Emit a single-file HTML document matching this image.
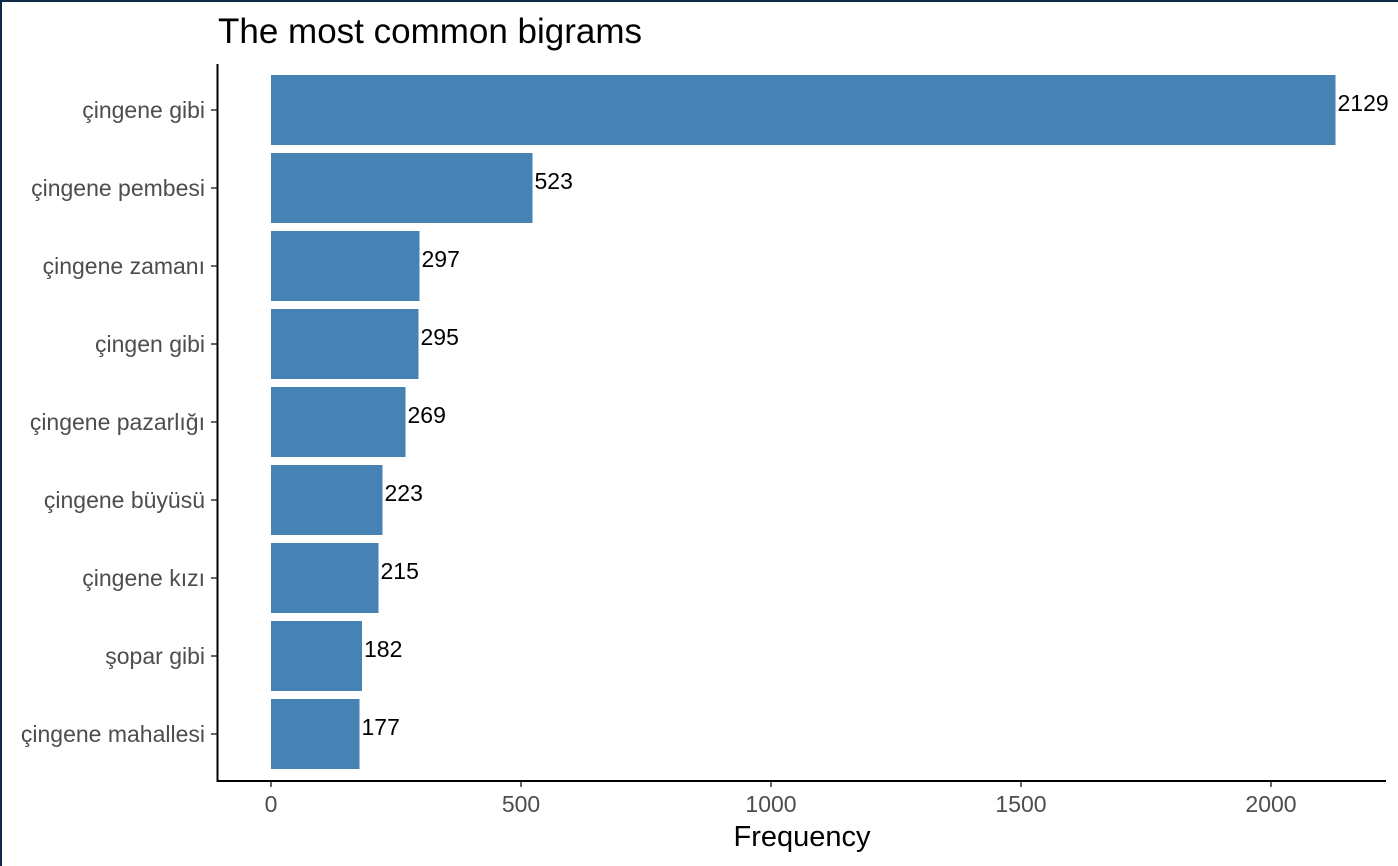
<!DOCTYPE html>
<html><head><meta charset="utf-8"><style>
body{margin:0;background:#fff;}
#wrap{position:relative;width:1398px;height:866px;overflow:hidden;box-sizing:border-box;border-left:2px solid #0c2a45;border-top:2px solid #0c2a45;}
svg{position:absolute;left:-2px;top:-2px;}
text{font-family:"Liberation Sans",Arial,sans-serif;}
</style></head><body>
<div id="wrap">
<svg id="c" width="1398" height="866">
<text x="218" y="43" font-size="35" fill="#000">The most common bigrams</text>
<text x="802" y="846" font-size="29" fill="#000" text-anchor="middle">Frequency</text>
</svg></div>
<script>
const categories=["çingene gibi","çingene pembesi","çingene zamanı","çingen gibi","çingene pazarlığı","çingene büyüsü","çingene kızı","şopar gibi","çingene mahallesi"];
const values=[2129,523,297,295,269,223,215,182,177];
const xTicks=[0,500,1000,1500,2000];
const ns="http://www.w3.org/2000/svg";
const svg=document.getElementById('c');
const x=v=>271+v*0.5;
const y0=110,step=78,bh=70;
const y=i=>y0+i*step;
function mk(t,a){const e=document.createElementNS(ns,t);for(const k in a)e.setAttribute(k,a[k]);svg.appendChild(e);return e;}
categories.forEach((c,i)=>{
  const r=mk('rect',{x:x(0),y:y(i)-bh/2,width:x(values[i])-x(0),height:bh,fill:'#4682b4'});
  
  
  const v=mk('text',{x:x(values[i])+2,y:y(i)+1,'font-size':23,fill:'#000'});
  v.textContent=values[i];
  
  
  const l=mk('text',{x:205,y:y(i)+8,'font-size':23,fill:'#4d4d4d','text-anchor':'end'});
  l.textContent=c;
  
  
  const t=mk('line',{x1:211,x2:217,y1:y(i),y2:y(i),stroke:'#333','stroke-width':1.5});
  
  
});
xTicks.forEach(v=>{
  const t=mk('line',{x1:x(v),x2:x(v),y1:781,y2:787,stroke:'#333','stroke-width':1.5});
  
  
  const l=mk('text',{x:x(v),y:812,'font-size':23,fill:'#4d4d4d','text-anchor':'middle'});
  l.textContent=v;
  
  
});
const ya=mk('line',{x1:217.5,x2:217.5,y1:64,y2:782,stroke:'#000','stroke-width':2});


const xa=mk('line',{x1:216.5,x2:1386,y1:781,y2:781,stroke:'#000','stroke-width':2});


</script>
</body></html>
